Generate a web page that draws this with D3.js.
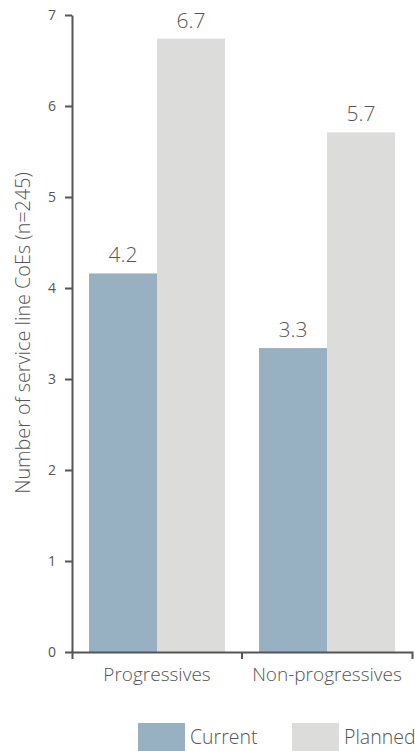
<!DOCTYPE html>
<html>
<head>
<meta charset="utf-8">
<script src="https://cdn.jsdelivr.net/npm/d3@7"></script>
<style>
  html, body { margin: 0; padding: 0; background: #fff; }
  svg { display: block; }
  text { font-family: "Open Sans", "Noto Sans", sans-serif; font-weight: 300; fill: #555; }
</style>
</head>
<body>
<svg id="chart" width="415" height="751"></svg>
<script>
const categories = ["Progressives", "Non-progressives"];
const seriesNames = ["Current", "Planned"];
const currentValues = [4.16, 3.34];
const plannedValues = [6.74, 5.71];
const yTicks = [0, 1, 2, 3, 4, 5, 6, 7];
const yTitle = "Number of service line CoEs (n=245)";
const colors = ["#97b0c2", "#dcdcdb"];

const svg = d3.select("#chart");
const x0 = 72, x1 = 412, yBottom = 652, yTop = 15;

const x = d3.scaleBand().domain(categories).range([x0, x1]).paddingInner(0.2).paddingOuter(0.1);
const xs = d3.scaleBand().domain(seriesNames).range([0, x.bandwidth()]);
const y = d3.scaleLinear().domain([0, 7]).range([yBottom, yTop]);

const rows = categories.map((c, i) => ({ cat: c, vals: [currentValues[i], plannedValues[i]] }));

// bars
const g = svg.append("g");
rows.forEach(r => {
  r.vals.forEach((v, j) => {
    g.append("rect")
      .attr("x", x(r.cat) + xs(seriesNames[j]))
      .attr("y", y(v))
      .attr("width", xs.bandwidth())
      .attr("height", y(0) - y(v))
      .attr("fill", colors[j]);
    g.append("text")
      .attr("x", x(r.cat) + xs(seriesNames[j]) + xs.bandwidth() / 2)
      .attr("y", y(v) - 11)
      .attr("text-anchor", "middle")
      .style("font-size", "21px")
      .text(d3.format(".1f")(v));
  });
});

// y axis
const yAxis = svg.append("g")
  .attr("transform", `translate(${x0},0)`)
  .call(d3.axisLeft(y).tickValues(yTicks).tickSize(7).tickSizeOuter(0).tickPadding(9).tickFormat(d3.format("d")));
yAxis.selectAll("path, line").attr("stroke", "#555").attr("stroke-width", 2);
yAxis.selectAll("text").style("font-size", "14px").style("font-family", "\"Open Sans\", sans-serif").style("font-weight", 400).attr("fill", "#555");

// x axis
const xAxis = svg.append("g")
  .attr("transform", `translate(0,${yBottom})`)
  .call(d3.axisBottom(x).tickSize(0).tickSizeOuter(7).tickPadding(16));
xAxis.selectAll("path").attr("stroke", "#555").attr("stroke-width", 2);
xAxis.selectAll("text").style("font-size", "19px").style("font-family", "\"Open Sans\", sans-serif").style("font-weight", 300).attr("fill", "#555");
// boundary tick between categories
const mid = x(categories[1]) - x.step() * x.paddingInner() / 2;
xAxis.append("line").attr("x1", mid).attr("x2", mid).attr("y1", 0).attr("y2", 7)
  .attr("stroke", "#555").attr("stroke-width", 2);

// y title
svg.append("text")
  .attr("transform", `translate(30,333) rotate(-90)`)
  .attr("text-anchor", "middle")
  .style("font-size", "19.8px")
  .text(yTitle);

// legend
const legendX = [138, 292];
seriesNames.forEach((s, j) => {
  svg.append("rect").attr("x", legendX[j]).attr("y", 723).attr("width", 47).attr("height", 28).attr("fill", colors[j]);
  svg.append("text").attr("x", legendX[j] + 52).attr("y", 744).style("font-size", "19.5px").text(s);
});
</script>
</body>
</html>
